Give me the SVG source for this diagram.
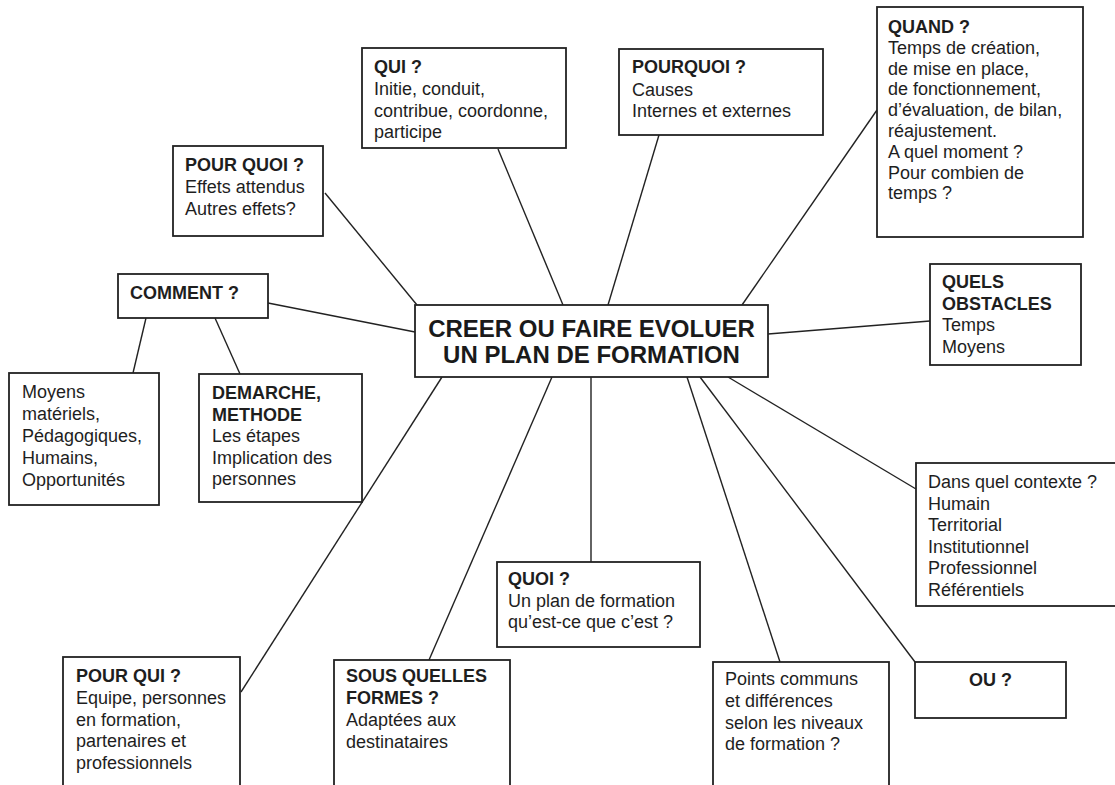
<svg xmlns="http://www.w3.org/2000/svg" width="1115" height="785" viewBox="0 0 1115 785">
<style>
.box{fill:#fff;stroke:#222;stroke-width:1.8}
.t{font-family:"Liberation Sans",Arial,sans-serif;font-size:18px;fill:#1e1e1e}
.b{font-weight:bold}
.c{font-family:"Liberation Sans",Arial,sans-serif;font-size:24px;font-weight:bold;fill:#1a1a1a}
.ln{stroke:#222;stroke-width:1.4;fill:none}
</style>
<rect width="1115" height="785" fill="#fff"/>
<g id="connectors">
<line class="ln" x1="325" y1="193" x2="417" y2="305"/>
<line class="ln" x1="498" y1="149" x2="563" y2="305"/>
<line class="ln" x1="659" y1="135" x2="608" y2="305"/>
<line class="ln" x1="877" y1="110" x2="742" y2="305"/>
<line class="ln" x1="268" y1="303" x2="415" y2="332"/>
<line class="ln" x1="146" y1="318" x2="133" y2="373"/>
<line class="ln" x1="215" y1="318" x2="240" y2="374"/>
<line class="ln" x1="768" y1="334" x2="930" y2="321"/>
<line class="ln" x1="728" y1="377" x2="916" y2="489"/>
<line class="ln" x1="700" y1="377" x2="915" y2="662"/>
<line class="ln" x1="687" y1="377" x2="780" y2="662"/>
<line class="ln" x1="591" y1="377" x2="591" y2="562"/>
<line class="ln" x1="552" y1="377" x2="429" y2="660"/>
<line class="ln" x1="442" y1="377" x2="241" y2="692"/>
</g>
<g id="center">
<rect class="box" x="415" y="305" width="353" height="72"/>
<text class="c" x="591.5" y="337" text-anchor="middle">CREER OU FAIRE EVOLUER</text>
<text class="c" x="591.5" y="363" text-anchor="middle">UN PLAN DE FORMATION</text>
</g>
<g id="pourquoi-effets">
<rect class="box" x="173" y="146" width="150" height="90"/>
<text class="t" x="185"><tspan class="b" y="171">POUR QUOI ?</tspan><tspan x="185" y="193">Effets attendus</tspan><tspan x="185" y="215">Autres effets?</tspan></text>
</g>
<g id="qui">
<rect class="box" x="362" y="48" width="204" height="100"/>
<text class="t" x="374"><tspan class="b" y="73">QUI ?</tspan><tspan x="374" y="95">Initie, conduit,</tspan><tspan x="374" y="116.5">contribue, coordonne,</tspan><tspan x="374" y="138">participe</tspan></text>
</g>
<g id="pourquoi">
<rect class="box" x="619" y="49" width="204" height="86"/>
<text class="t" x="632"><tspan class="b" y="73">POURQUOI ?</tspan><tspan x="632" y="96">Causes</tspan><tspan x="632" y="117">Internes et externes</tspan></text>
</g>
<g id="quand">
<rect class="box" x="877" y="7" width="206" height="230"/>
<text class="t" x="888"><tspan class="b" y="33">QUAND ?</tspan><tspan x="888" y="54">Temps de création,</tspan><tspan x="888" y="74.5">de mise en place,</tspan><tspan x="888" y="95">de fonctionnement,</tspan><tspan x="888" y="116">d’évaluation, de bilan,</tspan><tspan x="888" y="137">réajustement.</tspan><tspan x="888" y="158">A quel moment ?</tspan><tspan x="888" y="178.5">Pour combien de</tspan><tspan x="888" y="199">temps ?</tspan></text>
</g>
<g id="comment">
<rect class="box" x="118" y="274" width="150" height="44"/>
<text class="t b" x="130" y="299">COMMENT ?</text>
</g>
<g id="moyens">
<rect class="box" x="9" y="373" width="150" height="132"/>
<text class="t" x="22"><tspan y="398">Moyens</tspan><tspan x="22" y="420">matériels,</tspan><tspan x="22" y="442">Pédagogiques,</tspan><tspan x="22" y="464">Humains,</tspan><tspan x="22" y="486">Opportunités</tspan></text>
</g>
<g id="demarche">
<rect class="box" x="199" y="374" width="163" height="128"/>
<text class="t" x="212"><tspan class="b" y="399">DEMARCHE,</tspan><tspan class="b" x="212" y="420.5">METHODE</tspan><tspan x="212" y="442">Les étapes</tspan><tspan x="212" y="463.5">Implication des</tspan><tspan x="212" y="485">personnes</tspan></text>
</g>
<g id="obstacles">
<rect class="box" x="930" y="264" width="151" height="101"/>
<text class="t" x="942"><tspan class="b" y="288">QUELS</tspan><tspan class="b" x="942" y="309.5">OBSTACLES</tspan><tspan x="942" y="331">Temps</tspan><tspan x="942" y="352.5">Moyens</tspan></text>
</g>
<g id="contexte">
<rect class="box" x="916" y="463" width="210" height="143"/>
<text class="t" x="928"><tspan y="488">Dans quel contexte ?</tspan><tspan x="928" y="509.5">Humain</tspan><tspan x="928" y="531">Territorial</tspan><tspan x="928" y="552.5">Institutionnel</tspan><tspan x="928" y="574">Professionnel</tspan><tspan x="928" y="595.5">Référentiels</tspan></text>
</g>
<g id="quoi">
<rect class="box" x="497" y="562" width="203" height="85"/>
<text class="t" x="508"><tspan class="b" y="585">QUOI ?</tspan><tspan x="508" y="607">Un plan de formation</tspan><tspan x="508" y="628">qu’est-ce que c’est ?</tspan></text>
</g>
<g id="points">
<rect class="box" x="713" y="662" width="176" height="140"/>
<text class="t" x="725"><tspan y="685">Points communs</tspan><tspan x="725" y="707">et différences</tspan><tspan x="725" y="729">selon les niveaux</tspan><tspan x="725" y="750">de formation ?</tspan></text>
</g>
<g id="ou">
<rect class="box" x="915" y="662" width="151" height="56"/>
<text class="t b" x="990.5" y="686" text-anchor="middle">OU ?</text>
</g>
<g id="pourqui">
<rect class="box" x="63" y="657" width="177" height="145"/>
<text class="t" x="76"><tspan class="b" y="682">POUR QUI ?</tspan><tspan x="76" y="704">Equipe, personnes</tspan><tspan x="76" y="725.5">en formation,</tspan><tspan x="76" y="747">partenaires et</tspan><tspan x="76" y="768.5">professionnels</tspan></text>
</g>
<g id="formes">
<rect class="box" x="334" y="660" width="176" height="142"/>
<text class="t" x="346"><tspan class="b" y="682">SOUS QUELLES</tspan><tspan class="b" x="346" y="704">FORMES ?</tspan><tspan x="346" y="726">Adaptées aux</tspan><tspan x="346" y="747.5">destinataires</tspan></text>
</g>
</svg>
